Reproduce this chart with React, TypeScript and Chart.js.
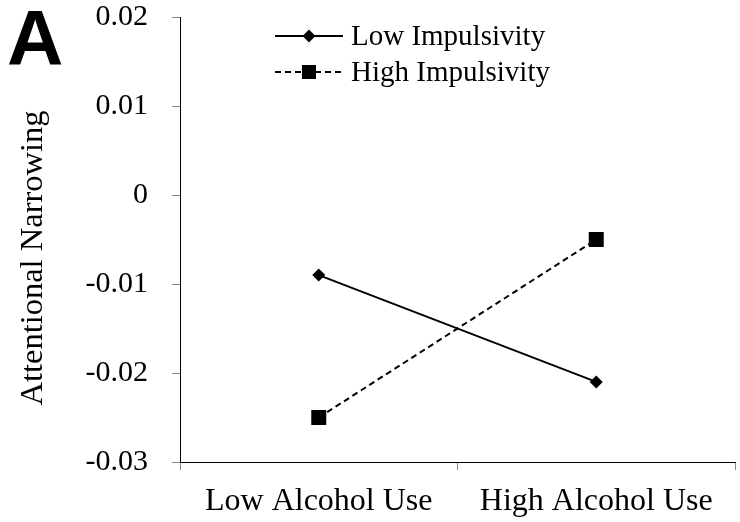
import React, { useEffect, useRef } from "react";
import { Chart, registerables } from "chart.js";

Chart.register(...registerables);

const categories = ["Low Alcohol Use", "High Alcohol Use"];
const lowImpulsivity = [-0.009, -0.021];
const highImpulsivity = [-0.025, -0.005];
const seriesNames = ["Low Impulsivity", "High Impulsivity"];
const yAxisTitle = "Attentional Narrowing";
const panelLetter = "A";
const yTickLabels: Record<string, string> = {
  "0.02": "0.02",
  "0.01": "0.01",
  "0": "0",
  "-0.01": "-0.01",
  "-0.02": "-0.02",
  "-0.03": "-0.03",
};

const SERIF = "Liberation Serif";

const overlayPlugin = {
  id: "overlay",
  afterDraw(chart: any) {
    const ctx = chart.ctx as CanvasRenderingContext2D;
    ctx.save();
    ctx.fillStyle = "#000";
    ctx.font = "bold 78px Liberation Sans";
    ctx.textBaseline = "alphabetic";
    ctx.textAlign = "left";
    ctx.fillText(panelLetter, 7, 65);

    // Y axis title
    ctx.save();
    ctx.translate(33, 258);
    ctx.rotate(-Math.PI / 2);
    ctx.font = "32.5px " + SERIF;
    ctx.textAlign = "center";
    ctx.textBaseline = "middle";
    ctx.fillText(yAxisTitle, 0, 0);
    ctx.restore();

    const rows = [36, 72];
    chart.data.datasets.forEach((ds: any, i: number) => {
      const y = rows[i];
      ctx.save();
      ctx.strokeStyle = "#000";
      ctx.lineWidth = 2;
      ctx.setLineDash(ds.borderDash || []);
      ctx.beginPath();
      ctx.moveTo(275, y);
      ctx.lineTo(343, y);
      ctx.stroke();
      ctx.setLineDash([]);
      ctx.fillStyle = "#000";
      const cx = 309;
      if (ds.pointStyle === "rectRot") {
        const r = 6.5;
        ctx.beginPath();
        ctx.moveTo(cx - r, y);
        ctx.lineTo(cx, y - r);
        ctx.lineTo(cx + r, y);
        ctx.lineTo(cx, y + r);
        ctx.closePath();
        ctx.fill();
      } else {
        const h = 7;
        ctx.fillRect(cx - h, y - h, 2 * h, 2 * h);
      }
      ctx.font = "29px " + SERIF;
      ctx.textBaseline = "middle";
      ctx.textAlign = "left";
      ctx.fillText(ds.label, 351, y + 1);
      ctx.restore();
    });
    ctx.restore();
  },
};

export default function App() {
  const ref = useRef<HTMLCanvasElement | null>(null);
  useEffect(() => {
    if (!ref.current) return;
    const chart = new Chart(ref.current, {
      type: "line",
      data: {
        labels: categories,
        datasets: [
          {
            label: seriesNames[0],
            data: lowImpulsivity,
            borderColor: "#000",
            backgroundColor: "#000",
            borderWidth: 2,
            pointStyle: "rectRot",
            pointRadius: 6.5,
            pointBorderWidth: 0,
            tension: 0,
          },
          {
            label: seriesNames[1],
            data: highImpulsivity,
            borderColor: "#000",
            backgroundColor: "#000",
            borderWidth: 2,
            borderDash: [6, 4],
            pointStyle: "rect",
            pointRadius: 10.6,
            pointBorderWidth: 0,
            tension: 0,
          },
        ],
      },
      options: {
        animation: false,
        responsive: false,
        devicePixelRatio: 1,
        layout: { autoPadding: false, padding: { top: 17, right: 5, left: 0, bottom: 0 } },
        plugins: {
          legend: { display: false },
          tooltip: { enabled: false },
        },
        scales: {
          x: {
            type: "category",
            offset: true,
            grid: {
              offset: true,
              drawOnChartArea: false,
              drawTicks: true,
              tickLength: 8,
              color: "#888",
            },
            border: { display: true, color: "#000", width: 1 },
            ticks: {
              color: "#000",
              font: { family: SERIF, size: 32 },
              padding: 12,
              maxRotation: 0,
            },
            afterFit: (scale: any) => {
              scale.height = 60;
              scale.paddingLeft = 0;
              scale.paddingRight = 0;
              scale.paddingTop = 0;
              scale.paddingBottom = 0;
            },
          },
          y: {
            min: -0.03,
            max: 0.02,
            grid: {
              drawOnChartArea: false,
              drawTicks: true,
              tickLength: 8,
              color: "#888",
            },
            border: { display: true, color: "#000", width: 1 },
            ticks: {
              stepSize: 0.01,
              color: "#000",
              font: { family: SERIF, size: 30 },
              padding: 24,
              callback: (v: any) => {
                const key = String(Math.round(Number(v) * 100) / 100);
                return yTickLabels[key] ?? key;
              },
            },
            title: { display: false },
            afterFit: (scale: any) => {
              scale.width = 180;
              scale.paddingLeft = 0;
              scale.paddingRight = 0;
              scale.paddingTop = 0;
              scale.paddingBottom = 0;
            },
          },
        },
      },
      plugins: [overlayPlugin],
    });
    return () => chart.destroy();
  }, []);
  return (
    <div style={{ position: "absolute", left: 0, top: 0, width: 740, height: 522, background: "#fff" }}>
      <canvas ref={ref} width={740} height={522} style={{ display: "block" }} />
    </div>
  );
}
